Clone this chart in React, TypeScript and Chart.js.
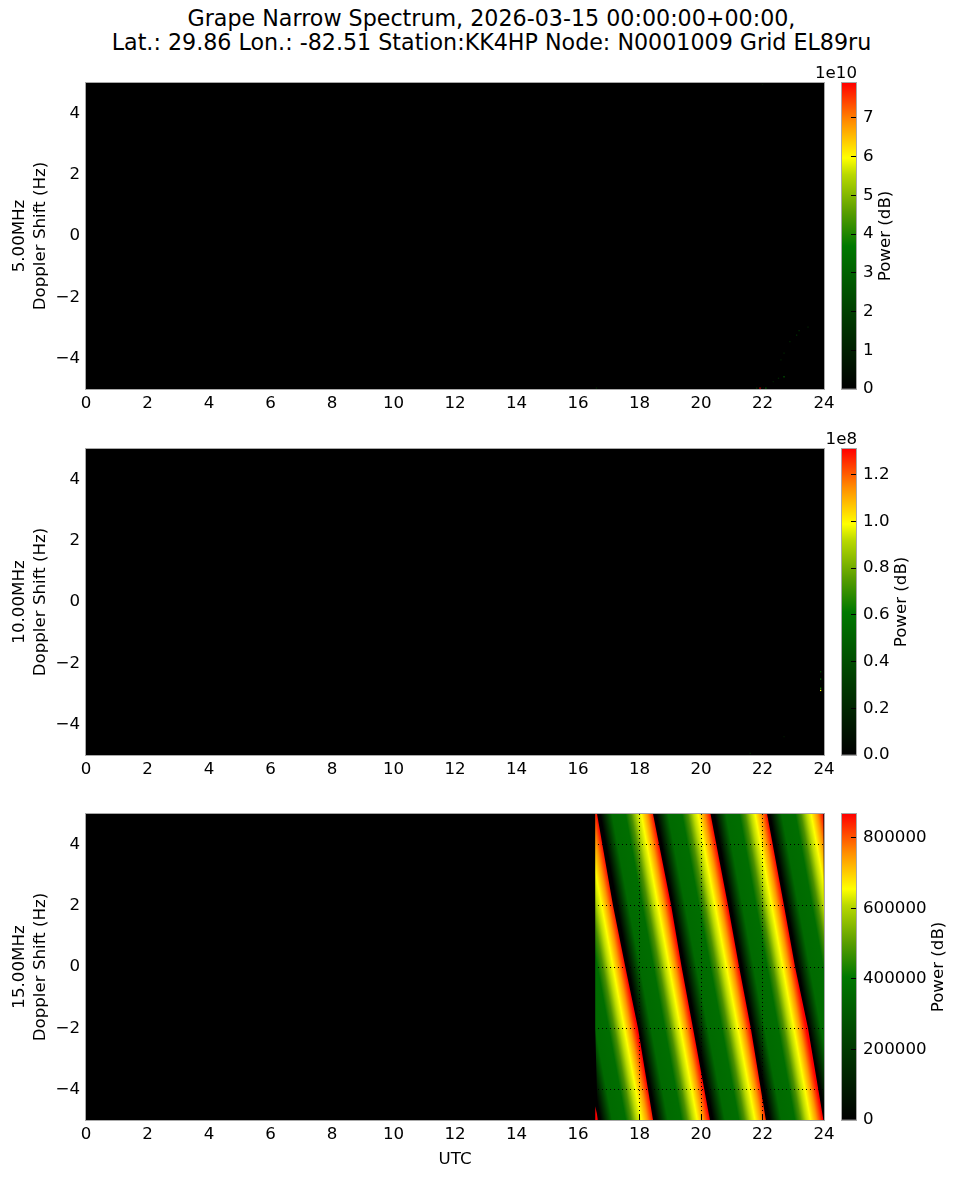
import React, { useEffect, useRef } from 'react';
import { Chart, registerables } from 'chart.js';

Chart.register(...registerables);

const FONT = '"DejaVu Sans"';

const hourTicks = [0, 2, 4, 6, 8, 10, 12, 14, 16, 18, 20, 22, 24];
const dopplerTicks = [-4, -2, 0, 2, 4];
const dopplerRows = [5, 2, 0, -2, -5];

// red/black boundary of each power ramp, hours at each doppler row (15 MHz)
// first and last are the ramps cut off by the start of the data and the end of the day
const rampEdges = [
  [14.8, 15.32, 15.72, 16.12, 16.64],
  [16.62, 17.14, 17.54, 17.95, 18.44],
  [18.44, 19.03, 19.37, 19.74, 20.29],
  [20.31, 20.88, 21.24, 21.62, 22.11],
  [22.15, 22.7, 23.06, 23.48, 23.98],
  [23.98, 24.55, 24.9, 25.3, 25.8],
];
const dataStartHour = 16.56;
const dayEndHour = 24;

const rampPhases = [0, 0.05, 0.14, 0.26, 0.5, 0.6, 0.7, 0.78, 0.89, 1];
const rampColors = ['#000000', '#000000', '#002e00', '#006a00', '#006e00', '#4a9000', '#b8d800', '#ffff00', '#ff9600', '#ff0000'];

const barStops = [0, 0.234, 0.467, 0.58, 0.7, 0.755, 0.875, 1];
const barColors = ['#000000', '#003a00', '#007800', '#5a9e00', '#b8d800', '#ffff00', '#ff8c00', '#ff0000'];

// isolated bright cells in the quiet bands
const specks5Hours = [21.81, 21.92, 22.0, 22.11, 22.7, 23.19, 23.11, 22.89, 22.7, 22.6, 23.48, 22.52, 22.35, 16.6, 22.0];
const specks5Hz = [-4.97, -4.97, -4.95, -4.97, -4.6, -3.09, -3.24, -3.45, -3.83, -4.05, -2.98, -4.65, -4.76, -4.97, 4.97];
const specks5Power = [0.2, 1, 0.4, 0.4, 0.35, 0.2, 0.2, 0.15, 0.15, 0.12, 0.15, 0.15, 0.12, 0.15, 0.15];
const specks10Hours = [23.89, 23.89, 23.89, 23.89, 22.7, 21.6];
const specks10Hz = [-2.28, -2.52, -2.82, -2.89, -4.4, -4.95];
const specks10Power = [0.3, 0.4, 0.5, 0.75, 0.1, 0.15];
const sliverHours = [16.56, 16.66, 16.56];
const sliverHz = [-4.55, -5, -5];

const frequencies = ['5.00MHz', '10.00MHz', '15.00MHz'];
const powerMax = [7.9e10, 1.31e8, 868000];
const powerTicks = [
  [0, 1e10, 2e10, 3e10, 4e10, 5e10, 6e10, 7e10],
  [0, 2e7, 4e7, 6e7, 8e7, 1e8, 1.2e8],
  [0, 200000, 400000, 600000, 800000],
];
const panelTops = [83, 449, 814];
const powerTitleX = [886, 902, 939];

const PLOT_H = 306;
const TICK_SIZE = 16.67;

function colorAt(frac: number) {
  let i = 1;
  while (i < barStops.length - 1 && barStops[i] < frac) i++;
  const t = (frac - barStops[i - 1]) / (barStops[i] - barStops[i - 1]);
  const ch = (hex: string, p: number) => parseInt(hex.slice(p, p + 2), 16);
  const mix = (p: number) => Math.round(ch(barColors[i - 1], p) * (1 - t) + ch(barColors[i], p) * t);
  return `rgb(${mix(1)},${mix(3)},${mix(5)})`;
}

const clampHour = (h: number) => Math.min(dayEndHour, Math.max(dataStartHour, h));

function rampDataset(k: number) {
  const left = rampEdges[k].map((h, i) => ({ x: clampHour(h), y: dopplerRows[i] }));
  const right = rampEdges[k + 1].map((h, i) => ({ x: clampHour(h), y: dopplerRows[i] })).reverse();
  return {
    data: [...left, ...right],
    fill: 'shape',
    borderWidth: 0,
    pointRadius: 0,
    backgroundColor: (ctx: any) => {
      const { x, y } = ctx.chart.scales;
      if (!x || !y) return '#000';
      const x0 = x.getPixelForValue(rampEdges[k][2]);
      const x1 = x.getPixelForValue(rampEdges[k + 1][2]);
      const y0 = y.getPixelForValue(0);
      const dx = x.getPixelForValue(rampEdges[k][4]) - x.getPixelForValue(rampEdges[k][0]);
      const dy = y.getPixelForValue(-5) - y.getPixelForValue(5);
      if (![x0, x1, y0, dx, dy].every(Number.isFinite) || dy === 0) return '#000';
      const len = Math.hypot(dx, dy);
      const span = ((x1 - x0) * dy) / len;
      const g = ctx.chart.ctx.createLinearGradient(x0, y0, x0 + (span * dy) / len, y0 - (span * dx) / len);
      rampPhases.forEach((p, i) => g.addColorStop(p, rampColors[i]));
      return g;
    },
  };
}

function speckDataset(hours: number[], hz: number[], power: number[]) {
  return {
    data: hours.map((h, i) => ({ x: h, y: hz[i] })),
    showLine: false,
    pointStyle: 'rect',
    pointRadius: 0.9,
    pointBorderWidth: 0,
    pointBackgroundColor: power.map(colorAt),
  };
}

const plotFrame = {
  id: 'plotFrame',
  beforeDatasetsDraw(chart: any, _a: any, opts: any) {
    const { ctx, chartArea: a } = chart;
    if (!opts.black) return;
    ctx.save();
    ctx.fillStyle = '#000';
    ctx.fillRect(a.left, a.top, a.width, a.height);
    ctx.restore();
  },
  afterDraw(chart: any) {
    const { ctx, chartArea: a } = chart;
    ctx.save();
    ctx.strokeStyle = '#a8a8a8';
    ctx.lineWidth = 1;
    ctx.strokeRect(a.left - 0.5, a.top - 0.5, a.width + 1, a.height + 1);
    ctx.restore();
  },
};

// the scientific-notation offset above a colour bar, and its rotated title
const barLabels = {
  id: 'barLabels',
  afterDraw(chart: any, _a: any, opts: any) {
    const { ctx, chartArea: a } = chart;
    ctx.save();
    ctx.font = `${TICK_SIZE}px ${FONT}`;
    ctx.fillStyle = '#000';
    if (opts.offset) {
      ctx.textAlign = 'right';
      ctx.textBaseline = 'bottom';
      ctx.fillText(opts.offset, a.right + 1, a.top - 1);
    }
    ctx.translate(opts.titleX, (a.top + a.bottom) / 2);
    ctx.rotate(-Math.PI / 2);
    ctx.textAlign = 'center';
    ctx.textBaseline = 'middle';
    ctx.fillText('Power (dB)', 0, 0);
    ctx.restore();
  },
};

const minus = (v: number | string) => String(v).replace('-', '\u2212');
const useTicks = (values: number[]) => (s: any) => { s.ticks = values.map((value) => ({ value })); };

function Panel({ index, datasets }: { index: number; datasets: any[] }) {
  const ref = useRef<HTMLCanvasElement>(null);
  const last = index === 2;

  useEffect(() => {
    if (!ref.current) return;
    const chart = new Chart(ref.current, {
      type: 'line',
      data: { datasets },
      plugins: [plotFrame],
      options: {
        animation: false,
        responsive: false,
        devicePixelRatio: 1,
        layout: { padding: { top: 10, right: 14, bottom: 0, left: 0 } },
        plugins: { legend: { display: false }, tooltip: { enabled: false }, plotFrame: { black: true } } as any,
        scales: {
          x: {
            type: 'linear',
            min: 0,
            max: 24,
            afterBuildTicks: useTicks(hourTicks),
            afterFit: (s: any) => { s.height = 50; s.paddingLeft = 0; s.paddingRight = 0; },
            border: { display: false, dash: [1, 3] },
            grid: { z: 1, color: '#000', tickLength: -5, tickColor: '#000' } as any,
            ticks: {
              maxRotation: 0,
              autoSkip: false,
              color: '#000',
              padding: 10,
              font: { family: FONT, size: TICK_SIZE },
            },
            title: {
              display: last,
              text: 'UTC',
              color: '#000',
              padding: { top: 0, bottom: 0 },
              font: { family: FONT, size: TICK_SIZE },
            },
          },
          y: {
            type: 'linear',
            min: -5,
            max: 5,
            afterBuildTicks: useTicks(dopplerTicks),
            afterFit: (s: any) => { s.width = 86; s.paddingTop = 0; s.paddingBottom = 0; },
            border: { display: false, dash: [1, 3] },
            grid: { z: 1, color: '#000', tickLength: -5, tickColor: '#000' } as any,
            ticks: {
              autoSkip: false,
              color: '#000',
              padding: 11,
              font: { family: FONT, size: TICK_SIZE },
              callback: (v: any) => minus(v),
            },
            title: {
              display: true,
              text: [frequencies[index], 'Doppler Shift (Hz)'],
              color: '#000',
              padding: { top: 9, bottom: 0 },
              font: { family: FONT, size: TICK_SIZE, lineHeight: 1.26 },
            },
          },
        },
      },
    });
    return () => chart.destroy();
  }, [index, datasets, last]);

  return (
    <canvas
      ref={ref}
      width={838}
      height={PLOT_H + 60}
      style={{ position: 'absolute', left: 0, top: panelTops[index] - 10 }}
    />
  );
}

function ColorBar({ index }: { index: number }) {
  const ref = useRef<HTMLCanvasElement>(null);

  useEffect(() => {
    if (!ref.current) return;
    const max = powerMax[index];
    const chart = new Chart(ref.current, {
      type: 'bar',
      data: {
        labels: ['power'],
        datasets: [{
          data: [max],
          barPercentage: 1,
          categoryPercentage: 1,
          backgroundColor: (ctx: any) => {
            const { y } = ctx.chart.scales;
            if (!y) return '#000';
            const y0 = y.getPixelForValue(0);
            const y1 = y.getPixelForValue(max);
            if (!Number.isFinite(y0) || !Number.isFinite(y1)) return '#000';
            const g = ctx.chart.ctx.createLinearGradient(0, y0, 0, y1);
            barStops.forEach((p, i) => g.addColorStop(p, barColors[i]));
            return g;
          },
        }],
      },
      plugins: [plotFrame, barLabels],
      options: {
        animation: false,
        responsive: false,
        devicePixelRatio: 1,
        layout: { padding: { top: 30, left: 42, bottom: 20, right: 0 } },
        plugins: {
          legend: { display: false },
          tooltip: { enabled: false },
          barLabels: {
            offset: index === 0 ? '1e10' : index === 1 ? '1e8' : '',
            titleX: powerTitleX[index] - 800,
          },
        } as any,
        scales: {
          x: { display: false },
          y: {
            position: 'right',
            min: 0,
            max,
            afterBuildTicks: useTicks(powerTicks[index]),
            afterFit: (s: any) => { s.width = 103; s.paddingTop = 0; s.paddingBottom = 0; },
            border: { display: false },
            grid: { z: 1, drawOnChartArea: false, tickLength: -5, tickColor: '#000' } as any,
            ticks: {
              autoSkip: false,
              color: '#000',
              padding: 12,
              font: { family: FONT, size: TICK_SIZE },
              callback: (v: any) =>
                index === 0 ? String(Math.round(v / 1e10)) : index === 1 ? (v / 1e8).toFixed(1) : String(v),
            },
          },
        },
      },
    });
    return () => chart.destroy();
  }, [index]);

  return (
    <canvas
      ref={ref}
      width={159}
      height={PLOT_H + 50}
      style={{ position: 'absolute', left: 800, top: panelTops[index] - 30 }}
    />
  );
}

const panelDatasets = [
  [speckDataset(specks5Hours, specks5Hz, specks5Power)],
  [speckDataset(specks10Hours, specks10Hz, specks10Power)],
  [
    ...[0, 1, 2, 3, 4].map(rampDataset),
    {
      data: sliverHours.map((h, i) => ({ x: h, y: sliverHz[i] })),
      fill: 'shape',
      borderWidth: 0,
      pointRadius: 0,
      backgroundColor: '#ff0000',
    },
  ],
];

export default function App() {
  return (
    <div style={{ position: 'relative', width: 959, height: 1178, margin: -8, overflow: 'hidden', background: '#fff' }}>
      <div
        style={{
          position: 'absolute',
          left: 0,
          width: 983,
          top: 6,
          textAlign: 'center',
          fontFamily: FONT,
          fontSize: 22.2,
          lineHeight: '24px',
          whiteSpace: 'pre',
        }}
      >
        {'Grape Narrow Spectrum, 2026-03-15 00:00:00+00:00,\nLat.: 29.86 Lon.: -82.51 Station:KK4HP Node: N0001009 Grid EL89ru'}
      </div>
      {frequencies.map((f, i) => (
        <React.Fragment key={f}>
          <Panel index={i} datasets={panelDatasets[i]} />
          <ColorBar index={i} />
        </React.Fragment>
      ))}
    </div>
  );
}
